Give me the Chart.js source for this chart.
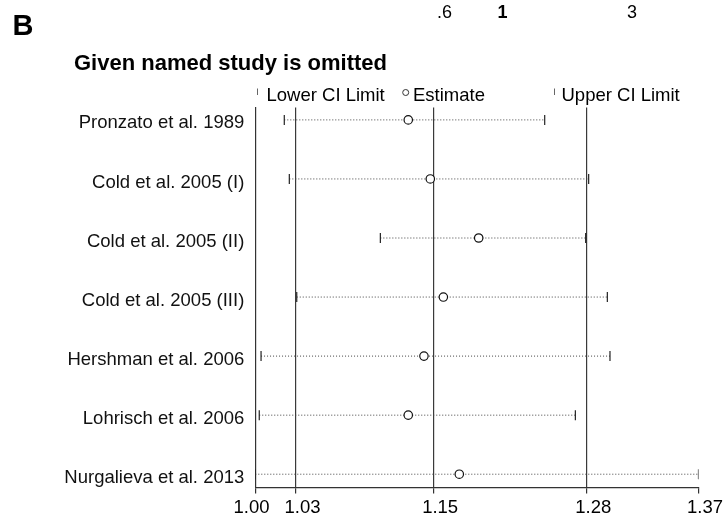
<!DOCTYPE html>
<html>
<head>
<meta charset="utf-8">
<script src="https://cdn.jsdelivr.net/npm/chart.js@4.4.1/dist/chart.umd.min.js"></script>
<style>
  html, body { margin: 0; padding: 0; background: #ffffff; }
  #wrap { width: 724px; height: 517px; }
</style>
</head>
<body>
<div id="wrap"><canvas id="c" width="724" height="517"></canvas></div>
<script>
// ---- Data ----
const studies = [
  'Pronzato et al. 1989',
  'Cold et al. 2005 (I)',
  'Cold et al. 2005 (II)',
  'Cold et al. 2005 (III)',
  'Hershman et al. 2006',
  'Lohrisch et al. 2006',
  'Nurgalieva et al. 2013'
];
const lowerCI  = [1.0242, 1.0284, 1.1044, 1.0346, 1.0048, 1.0033, 1.0000];
const estimate = [1.1277, 1.1461, 1.1865, 1.1570, 1.1408, 1.1277, 1.1703];
const upperCI  = [1.2416, 1.2783, 1.2758, 1.2939, 1.2961, 1.2672, 1.3700];
// pooled lower CI, estimate, upper CI (full-height reference lines)
const refLines = [1.0340, 1.1489, 1.2767];
const xTickValues = [1.00, refLines[0], refLines[1], refLines[2], 1.37];
const xTickLabels = ['1.00\u2007\u2007', '1.03', '1.15', '1.28', '1.37'];
const topLabels = ['.6', '1', '3'];

const FONT = '"Liberation Sans", Arial, Helvetica, sans-serif';
const rowY = i => i + 1;

const datasets = [];
// estimates (on top)
datasets.push({
  type: 'scatter',
  label: 'Estimate',
  data: estimate.map((v, i) => ({ x: v, y: rowY(i) })),
  pointStyle: 'circle',
  pointRadius: 4.2,
  pointBorderWidth: 1.2,
  pointBorderColor: '#111',
  pointBackgroundColor: '#ffffff',
  order: 0
});
// caps
datasets.push({
  type: 'scatter',
  label: 'Lower CI Limit',
  data: lowerCI.map((v, i) => ({ x: v, y: rowY(i) })),
  pointStyle: 'line',
  pointRotation: 90,
  pointRadius: 5,
  pointBorderWidth: 1.2,
  pointBorderColor: '#222',
  order: 1
});
datasets.push({
  type: 'scatter',
  label: 'Upper CI Limit',
  data: upperCI.map((v, i) => ({ x: v, y: rowY(i) })),
  pointStyle: 'line',
  pointRotation: 90,
  pointRadius: 5,
  pointBorderWidth: 1.2,
  pointBorderColor: '#222',
  order: 1
});
// dotted CI lines
studies.forEach((s, i) => {
  datasets.push({
    type: 'line',
    label: s,
    data: [{ x: lowerCI[i], y: rowY(i) }, { x: upperCI[i], y: rowY(i) }],
    borderColor: '#444',
    borderWidth: 1,
    borderDash: [1, 2],
    pointRadius: 0,
    fill: false,
    order: 2
  });
});

const overlay = {
  id: 'overlay',
  afterDraw(chart) {
    const ctx = chart.ctx;
    ctx.save();
    ctx.fillStyle = '#000';
    ctx.textBaseline = 'alphabetic';
    // panel letter
    ctx.textAlign = 'left';
    ctx.font = 'bold 29px ' + FONT;
    ctx.fillText('B', 12.5, 35);
    // stray top labels
    ctx.textAlign = 'center';
    ctx.font = '18px ' + FONT;
    ctx.fillText(topLabels[0], 444.5, 18);
    ctx.font = 'bold 18px ' + FONT;
    ctx.fillText(topLabels[1], 502.5, 18);
    ctx.font = '18px ' + FONT;
    ctx.fillText(topLabels[2], 632, 18);
    // title
    ctx.textAlign = 'left';
    ctx.font = 'bold 22px ' + FONT;
    ctx.fillText('Given named study is omitted', 74, 70);
    // legend
    ctx.font = '18.5px ' + FONT;
    ctx.strokeStyle = '#666';
    ctx.lineWidth = 1;
    ctx.beginPath();
    ctx.moveTo(257.5, 88.5); ctx.lineTo(257.5, 95);
    ctx.moveTo(554.5, 88.5); ctx.lineTo(554.5, 95);
    ctx.stroke();
    ctx.fillText('Lower CI Limit', 266.5, 100.5);
    ctx.strokeStyle = '#333';
    ctx.beginPath();
    ctx.arc(405.7, 92.5, 3, 0, Math.PI * 2);
    ctx.stroke();
    ctx.fillText('Estimate', 413, 100.5);
    ctx.fillText('Upper CI Limit', 561.5, 100.5);
    ctx.restore();
  }
};

new Chart(document.getElementById('c'), {
  type: 'scatter',
  data: { datasets },
  plugins: [overlay],
  options: {
    responsive: false,
    animation: false,
    events: [],
    layout: { padding: { left: 0, right: 25.5, top: 107.5, bottom: 0 } },
    plugins: {
      legend: { display: false },
      title: { display: false },
      tooltip: { enabled: false }
    },
    scales: {
      x: {
        type: 'linear',
        min: 1.00,
        max: 1.37,
        afterBuildTicks(scale) {
          scale.ticks = xTickValues.map(v => ({ value: v }));
        },
        afterFit(scale) { scale.height = 29.5; },
        ticks: {
          autoSkip: false,
          maxRotation: 0,
          padding: 3,
          labelOffset: 6.5,
          color: '#000',
          font: { family: FONT, size: 18.5 },
          callback: (v, i) => xTickLabels[i]
        },
        grid: {
          display: true,
          drawTicks: true,
          tickLength: 6,
          lineWidth: 1.2,
          tickColor: '#333',
          tickWidth: 1.2,
          color: ctx => (ctx.index >= 1 && ctx.index <= 3) ? '#3a3a3a' : 'rgba(0,0,0,0)'
        },
        border: { display: true, color: '#333', width: 1.2 }
      },
      y: {
        type: 'linear',
        reverse: true,
        min: 0.79,
        max: 7.225,
        afterBuildTicks(scale) {
          scale.ticks = studies.map((s, i) => ({ value: rowY(i) }));
        },
        afterFit(scale) { scale.width = 255.3; },
        ticks: {
          autoSkip: false,
          padding: 11,
          labelOffset: 3.5,
          color: '#111',
          font: { family: FONT, size: 18.5 },
          callback: (v, i) => studies[i]
        },
        grid: { display: false, drawTicks: false },
        border: { display: true, color: '#333', width: 1.2 }
      }
    }
  }
});
</script>
</body>
</html>
